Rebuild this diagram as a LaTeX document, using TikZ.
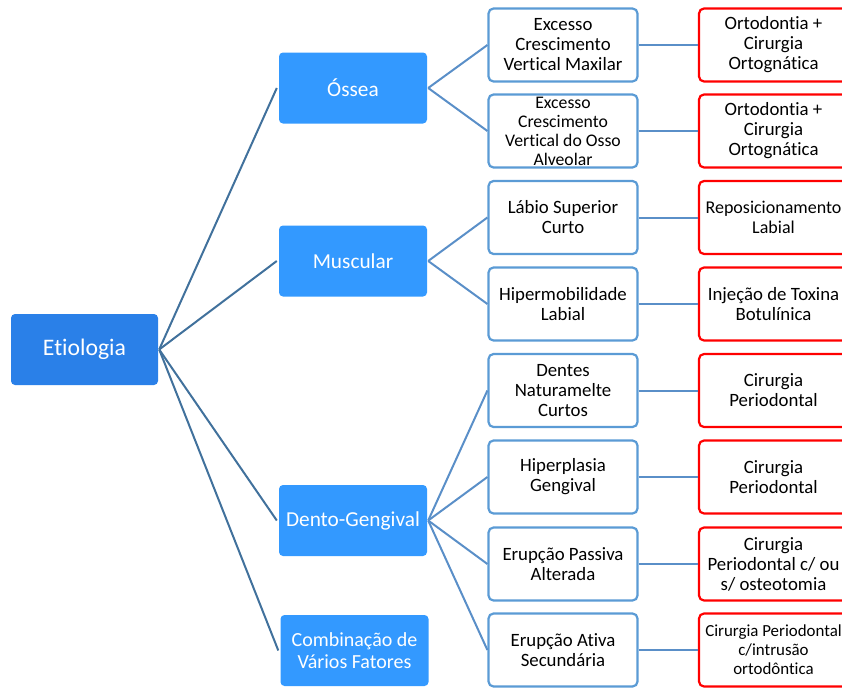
\documentclass[tikz,border=0pt]{standalone}
\usepackage{fontspec}
\setmainfont{Carlito}[Ligatures=NoCommon]
\definecolor{rootfill}{HTML}{2A80E8}
\definecolor{lvfill}{HTML}{3399FF}
\definecolor{bborder}{HTML}{5B9BD5}
\definecolor{rborder}{HTML}{FF0000}
\definecolor{rootline}{HTML}{41719C}
\definecolor{subline}{HTML}{5A8FC8}
\begin{document}
\begin{tikzpicture}[x=1pt,y=-1pt,
  rootbox/.style={fill=rootfill,draw=none,rounded corners=4pt,minimum width=147pt,minimum height=71pt,text=white,font=\fontsize{23.7}{27}\selectfont,align=center,inner sep=0pt},
  lvbox/.style={fill=lvfill,draw=none,rounded corners=4pt,minimum width=148pt,minimum height=71pt,text=white,font=\fontsize{21.3}{24}\selectfont,align=center,inner sep=0pt},
  causebox/.style={draw=bborder,line width=2.2pt,fill=white,rounded corners=5pt,minimum width=149pt,minimum height=73pt,text=black,font=\fontsize{18.8}{20}\selectfont,align=center,inner sep=0pt},
  treatbox/.style={draw=rborder,line width=2.2pt,fill=white,rounded corners=5pt,minimum width=149pt,minimum height=73pt,text=black,font=\fontsize{18.8}{20}\selectfont,align=center,inner sep=0pt},
  rootlink/.style={draw=rootline,line width=2pt},
  sublink/.style={draw=subline,line width=2pt}
]
\useasboundingbox (0,0) rectangle (842,688);

\node[rootbox] (root) at (84.5,349.5) {Etiologia};

\node[lvbox] (ossea) at (353,88) {Óssea};
\node[lvbox] (musc) at (353,261) {Muscular};
\node[lvbox] (dento) at (353,520.5) {Dento-Gengival};
\node[lvbox,font=\fontsize{20}{22}\selectfont] (comb) at (354.5,650.5) {Combinação de\\Vários Fatores};

\node[causebox] (c1) at (563,45) {Excesso\\Crescimento\\Vertical Maxilar};
\node[causebox,font=\fontsize{17.7}{19}\selectfont] (c2) at (563,131) {Excesso\\Crescimento\\Vertical do Osso\\Alveolar};
\node[causebox] (c3) at (563,217.5) {Lábio Superior\\Curto};
\node[causebox] (c4) at (563,304) {Hipermobilidade\\Labial};
\node[causebox] (c5) at (563,390.5) {Dentes\\Naturamelte\\Curtos};
\node[causebox] (c6) at (563,477) {Hiperplasia\\Gengival};
\node[causebox] (c7) at (563,564) {Erupção Passiva\\Alterada};
\node[causebox] (c8) at (563,650) {Erupção Ativa\\Secundária};

\node[treatbox] (t1) at (773.5,45) {Ortodontia +\\Cirurgia\\Ortognática};
\node[treatbox] (t2) at (773.5,131) {Ortodontia +\\Cirurgia\\Ortognática};
\node[treatbox,font=\fontsize{18}{20}\selectfont] (t3) at (773.5,217.5) {Reposicionamento\\Labial};
\node[treatbox] (t4) at (773.5,304) {Injeção de Toxina\\Botulínica};
\node[treatbox] (t5) at (773.5,390.5) {Cirurgia\\Periodontal};
\node[treatbox] (t6) at (773.5,477) {Cirurgia\\Periodontal};
\node[treatbox] (t7) at (773.5,564) {Cirurgia\\Periodontal c/ ou\\s/ osteotomia};
\node[treatbox,font=\fontsize{16.9}{19}\selectfont] (t8) at (773.5,650) {Cirurgia Periodontal\\c/intrusão\\ortodôntica};

\foreach \n in {ossea,musc,dento,comb}
  \draw[rootlink] ([xshift=1pt]root.east) -- ([xshift=-2pt]\n.west);
\draw[sublink] ([xshift=1pt]ossea.east) -- (c1.west);
\draw[sublink] ([xshift=1pt]ossea.east) -- (c2.west);
\draw[sublink] ([xshift=1pt]musc.east) -- (c3.west);
\draw[sublink] ([xshift=1pt]musc.east) -- (c4.west);
\foreach \c in {c5,c6,c7,c8}
  \draw[sublink] ([xshift=1pt]dento.east) -- (\c.west);
\foreach \i in {1,...,8}
  \draw[sublink] (c\i.east) -- (t\i.west);
\end{tikzpicture}
\end{document}
